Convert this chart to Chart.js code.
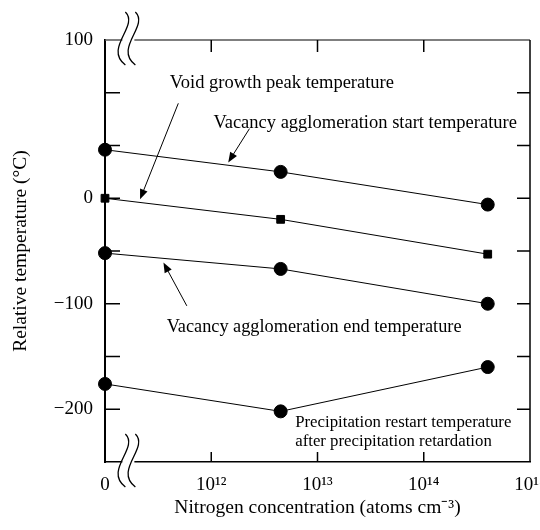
<!DOCTYPE html>
<html>
<head>
<meta charset="utf-8">
<script src="https://cdn.jsdelivr.net/npm/chart.js@4"></script>
<style>
  html, body { margin: 0; padding: 0; background: #fff; }
</style>
</head>
<body>
<canvas id="chart" width="540" height="530"></canvas>
<script>
// nitrogen concentration of the three samples (atoms/cm3), 0 = nitrogen-free
const concentration = [0, 4.5e12, 4e14];

// relative temperatures (°C)
const startTemp = [46, 25, -6];        // vacancy agglomeration start
const voidPeakTemp = [0, -20, -53];    // void growth peak
const endTemp = [-52, -67, -100];      // vacancy agglomeration end
const restartTemp = [-176, -202, -160]; // precipitation restart

const xTickValues = [0, 1e12, 1e13, 1e14, 1e15];
const xTickText = ["0", "10¹²", "10¹³", "10¹⁴", "10¹⁵"];
const yTickValues = [150, 0, -100, -200];
const yTickText = ["100", "0", "−100", "−200"];

const FONT = "'Liberation Serif', 'Times New Roman', serif";

// the x axis is log10 of the concentration; zero sits on the axis break at 10^11
function xPos(c) {
  return c === 0 ? 11 : Math.log10(c);
}

function series(values) {
  return values.map((v, i) => ({ x: xPos(concentration[i]), y: v }));
}

function lineSet(values, style, r) {
  return {
    data: series(values),
    showLine: true,
    borderColor: "#000",
    borderWidth: 1,
    backgroundColor: "#000",
    pointStyle: style,
    pointRadius: r,
    pointHoverRadius: r,
    clip: false
  };
}

const notes = [
  { text: ["Void growth peak temperature"], x: 11.61, y: 109, size: 18.5, from: [11.69, 90], to: [11.33, -1] },
  { text: ["Vacancy agglomeration start temperature"], x: 12.02, y: 71, size: 18.5, from: [12.36, 66], to: [12.16, 34] },
  { text: ["Vacancy agglomeration end temperature"], x: 11.58, y: -122, size: 18.3, from: [11.77, -102], to: [11.55, -61] },
  { text: ["Precipitation restart temperature", "after precipitation retardation"], x: 12.79, y: -213, size: 16.8 }
];

function arrow(ctx, x1, y1, x2, y2) {
  const a = Math.atan2(y2 - y1, x2 - x1);
  const len = 10, w = 4;
  ctx.beginPath();
  ctx.moveTo(x1, y1);
  ctx.lineTo(x2 - Math.cos(a) * len * 0.8, y2 - Math.sin(a) * len * 0.8);
  ctx.stroke();
  ctx.beginPath();
  ctx.moveTo(x2, y2);
  ctx.lineTo(x2 - Math.cos(a) * len - Math.sin(a) * w, y2 - Math.sin(a) * len + Math.cos(a) * w);
  ctx.lineTo(x2 - Math.cos(a) * len + Math.sin(a) * w, y2 - Math.sin(a) * len - Math.cos(a) * w);
  ctx.closePath();
  ctx.fill();
}

// one wavy stroke of the axis-break mark, centred on (cx, cy)
function wave(ctx, cx, cy) {
  ctx.moveTo(cx + 2, cy - 28);
  ctx.bezierCurveTo(cx + 16, cy - 14, cx - 20, cy + 8, cx + 2, cy + 25);
}

function breakMark(ctx, cx, cy) {
  ctx.save();
  ctx.fillStyle = "#fff";
  ctx.fillRect(cx - 6, cy - 3, 12, 6);
  ctx.strokeStyle = "#000";
  ctx.lineWidth = 1.3;
  ctx.beginPath();
  wave(ctx, cx - 5, cy);
  wave(ctx, cx + 5, cy);
  ctx.stroke();
  ctx.restore();
}

const frame = {
  id: "frame",
  afterDraw(chart) {
    const { ctx, chartArea: a, scales: { x, y } } = chart;
    ctx.save();
    ctx.strokeStyle = "#000";
    ctx.fillStyle = "#000";

    // top and right sides of the box
    ctx.lineWidth = 1.5;
    ctx.strokeStyle = "#555";
    ctx.beginPath();
    ctx.moveTo(a.left, a.top);
    ctx.lineTo(a.right, a.top);
    ctx.stroke();
    ctx.strokeStyle = "#000";
    ctx.beginPath();
    ctx.moveTo(a.right, a.top);
    ctx.lineTo(a.right, a.bottom);
    ctx.stroke();

    // inward tick marks
    ctx.beginPath();
    y.ticks.forEach(t => {
      if (t.value <= y.min || t.value >= y.max) return;
      const py = y.getPixelForValue(t.value);
      ctx.moveTo(a.left, py); ctx.lineTo(a.left + 15, py);
      ctx.moveTo(a.right, py); ctx.lineTo(a.right - 13, py);
    });
    x.ticks.forEach(t => {
      if (t.value <= x.min || t.value >= x.max) return;
      const px = x.getPixelForValue(t.value);
      ctx.moveTo(px, a.top); ctx.lineTo(px, a.top + 12);
      ctx.moveTo(px, a.bottom); ctx.lineTo(px, a.bottom - 10);
    });
    ctx.stroke();

    // axis break marks on top and bottom edges
    const bx = x.getPixelForValue(11.22);
    breakMark(ctx, bx, a.top);
    breakMark(ctx, bx, a.bottom);

    // annotation labels and arrows
    ctx.textBaseline = "middle";
    ctx.textAlign = "left";
    ctx.lineWidth = 1;
    notes.forEach(n => {
      ctx.font = n.size + "px " + FONT;
      const tx = x.getPixelForValue(n.x);
      const ty = y.getPixelForValue(n.y);
      n.text.forEach((line, i) => ctx.fillText(line, tx, ty + i * 19));
      if (n.from) {
        arrow(ctx,
          x.getPixelForValue(n.from[0]), y.getPixelForValue(n.from[1]),
          x.getPixelForValue(n.to[0]), y.getPixelForValue(n.to[1]));
      }
    });
    ctx.restore();
  }
};

new Chart(document.getElementById("chart"), {
  type: "scatter",
  data: {
    datasets: [
      lineSet(startTemp, "circle", 6.5),
      lineSet(voidPeakTemp, "rect", 5.5),
      lineSet(endTemp, "circle", 6.5),
      lineSet(restartTemp, "circle", 6.5)
    ]
  },
  options: {
    responsive: false,
    animation: false,
    layout: { padding: { top: 40, right: 10, left: 0, bottom: 0 } },
    plugins: {
      legend: { display: false },
      tooltip: { enabled: false }
    },
    scales: {
      x: {
        type: "linear",
        min: 11,
        max: 15,
        afterBuildTicks: s => { s.ticks = xTickValues.map(v => ({ value: xPos(v) })); },
        afterFit: s => { s.height = 68; s.paddingLeft = 0; s.paddingRight = 0; },
        grid: { display: false, drawTicks: false },
        border: { display: true, color: "#000", width: 1.5 },
        ticks: {
          color: "#000",
          padding: 12,
          maxRotation: 0,
          autoSkip: false,
          font: { family: FONT, size: 19 },
          callback: (v, i) => xTickText[i]
        },
        title: {
          display: true,
          text: "Nitrogen concentration (atoms cm⁻³)",
          color: "#000",
          font: { family: FONT, size: 19.5 },
          padding: { top: 0, bottom: 10 }
        }
      },
      y: {
        min: -250,
        max: 150,
        ticks: {
          stepSize: 50,
          color: "#000",
          padding: 12,
          font: { family: FONT, size: 19 },
          callback: v => {
            const i = yTickValues.indexOf(v);
            return i < 0 ? "" : yTickText[i];
          }
        },
        afterFit: s => { s.width = 105; s.paddingTop = 0; s.paddingBottom = 0; },
        grid: { display: false, drawTicks: false },
        border: { display: true, color: "#000", width: 2 },
        title: {
          display: true,
          text: "Relative temperature (°C)",
          color: "#000",
          font: { family: FONT, size: 19.5 },
          padding: { top: 9, bottom: 0 }
        }
      }
    }
  },
  plugins: [frame]
});
</script>
</body>
</html>
